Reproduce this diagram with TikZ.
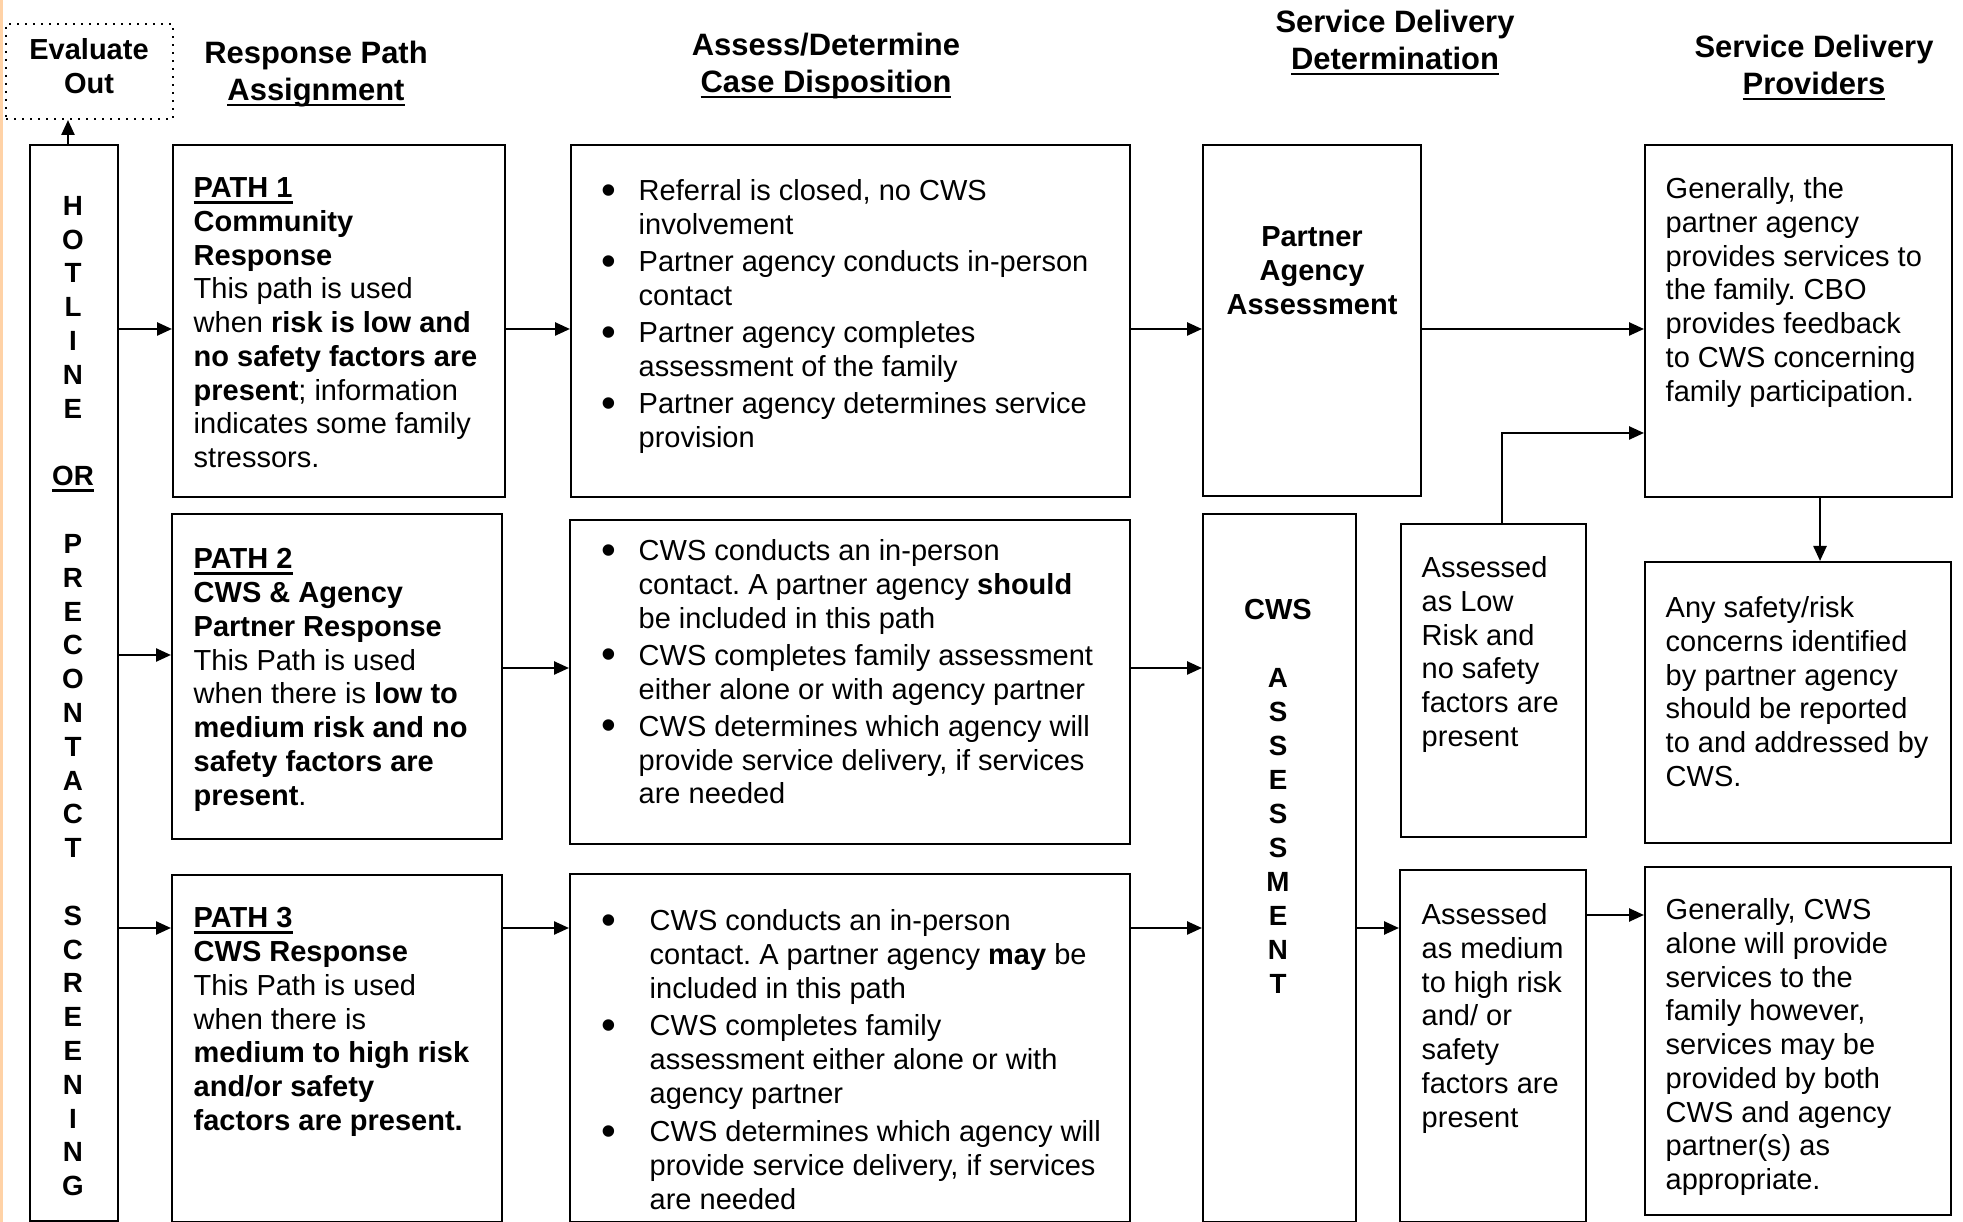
\documentclass[tikz,border=0pt]{standalone}
\usepackage{fontspec}
\setmainfont{Liberation Sans}
\usepackage{tikz}
\usetikzlibrary{positioning, arrows.meta}

\newcommand{\bodysize}{\fontsize{8.25}{9.6}\selectfont}
\newcommand{\headsize}{\fontsize{8.8}{10.5}\selectfont\bfseries}
\newcommand{\itm}[1]{\makebox[#1][l]{\raisebox{-1pt}{\fontsize{12}{12}\selectfont\textbullet}}}
\newcommand{\cont}[1]{\hspace*{#1}}
\newcommand{\uln}[1]{\setbox0=\hbox{#1}\rlap{\rule[-1.7pt]{\wd0}{0.7pt}}\box0}
\frenchspacing

\begin{document}
\begin{tikzpicture}[
    box/.style={draw, line width=0.6pt, inner sep=0pt, anchor=north west},
    txt/.style={anchor=north west, align=left, inner sep=0pt, font=\bodysize},
    head/.style={anchor=north, align=center, inner sep=0pt, font=\headsize},
    arr/.style={-{Triangle[length=0.15cm, width=0.13cm]}, line width=0.7pt}
]
    \useasboundingbox (0,0) rectangle (19.63,-12.22);
    \draw[orange!35, line width=0.03cm] (0.012,0) -- (0.012,-12.22);

    % Column headings
    \node[head] (h1) at (3.16,-0.404) {Response Path\\\uln{Assignment}};
    \node[head] (h2) at (8.26,-0.324) {Assess/Determine\\\uln{Case Disposition}};
    \node[head] (h3) at (13.95,-0.094) {Service Delivery\\\uln{Determination}};
    \node[head] (h4) at (18.14,-0.344) {Service Delivery\\\uln{Providers}};

    % Evaluate out and hotline
    \node[box, minimum width=1.67cm, minimum height=0.95cm, dash pattern=on 0.02cm off 0.06cm, line width=0.02cm] (eval) at (0.05,-0.23) {};
    \node[head, font=\fontsize{8.25}{9.67}\selectfont\bfseries] (evalt) at (0.89,-0.38) {Evaluate\\Out};
    \node[box, minimum width=0.88cm, minimum height=10.76cm] (hotline) at (0.29,-1.44) {};
    \node[head, font=\fontsize{7.9}{9.62}\selectfont\bfseries] (hotlinet) at (0.73,-1.955)
        {H\\O\\T\\L\\I\\N\\E\\\mbox{}\\\uln{OR}\\\mbox{}\\P\\R\\E\\C\\O\\N\\T\\A\\C\\T\\\mbox{}\\S\\C\\R\\E\\E\\N\\I\\N\\G};

    % Response paths
    \node[box, minimum width=3.32cm, minimum height=3.52cm] (path1) at (1.72,-1.44) {};
    \node[txt] (path1t) at (1.93,-1.77) {\textbf{\uln{PATH 1}}\\\textbf{Community}\\\textbf{Response}\\This path is used\\when \textbf{risk is low and}\\\textbf{no safety factors are}\\\textbf{present}; information\\indicates some family\\stressors.};
    \node[box, minimum width=3.30cm, minimum height=3.25cm] (path2) at (1.71,-5.13) {};
    \node[txt] (path2t) at (1.93,-5.48) {\textbf{\uln{PATH 2}}\\\textbf{CWS \& Agency}\\\textbf{Partner Response}\\This Path is used\\when there is \textbf{low to}\\\textbf{medium risk and no}\\\textbf{safety factors are}\\\textbf{present}.};
    \node[box, minimum width=3.30cm, minimum height=3.47cm] (path3) at (1.71,-8.74) {};
    \node[txt] (path3t) at (1.93,-9.07) {\textbf{\uln{PATH 3}}\\\textbf{CWS Response}\\This Path is used\\when there is\\\textbf{medium to high risk}\\\textbf{and/or safety}\\\textbf{factors are present.}};

    % Case disposition
    \node[box, minimum width=5.59cm, minimum height=3.52cm] (case1) at (5.70,-1.44) {};
    \node[txt] (case1t) at (6.01,-1.79) {\itm{0.37cm}Referral is closed, no CWS\\\cont{0.37cm}involvement\\[0.035cm]\itm{0.37cm}Partner agency conducts in-person\\\cont{0.37cm}contact\\[0.035cm]\itm{0.37cm}Partner agency completes\\\cont{0.37cm}assessment of the family\\[0.035cm]\itm{0.37cm}Partner agency determines service\\\cont{0.37cm}provision};
    \node[box, minimum width=5.60cm, minimum height=3.24cm] (case2) at (5.69,-5.19) {};
    \node[txt] (case2t) at (6.01,-5.39) {\itm{0.37cm}CWS conducts an in-person\\\cont{0.37cm}contact. A partner agency \textbf{should}\\\cont{0.37cm}be included in this path\\[0.035cm]\itm{0.37cm}CWS completes family assessment\\\cont{0.37cm}either alone or with agency partner\\[0.035cm]\itm{0.37cm}CWS determines which agency will\\\cont{0.37cm}provide service delivery, if services\\\cont{0.37cm}are needed};
    \node[box, minimum width=5.60cm, minimum height=3.48cm] (case3) at (5.69,-8.73) {};
    \node[txt] (case3t) at (6.01,-9.09) {\itm{0.48cm}CWS conducts an in-person\\\cont{0.48cm}contact. A partner agency \textbf{may} be\\\cont{0.48cm}included in this path\\[0.04cm]\itm{0.48cm}CWS completes family\\\cont{0.48cm}assessment either alone or with\\\cont{0.48cm}agency partner\\[0.045cm]\itm{0.48cm}CWS determines which agency will\\\cont{0.48cm}provide service delivery, if services\\\cont{0.48cm}are needed};

    % Service delivery determination
    \node[box, minimum width=2.18cm, minimum height=3.51cm] (partner) at (12.02,-1.44) {};
    \node[head, font=\fontsize{8.25}{9.67}\selectfont\bfseries] (partnert) at (13.12,-2.26) {Partner\\Agency\\Assessment};
    \node[box, minimum width=1.53cm, minimum height=7.08cm] (cws) at (12.02,-5.13) {};
    \node[head, font=\fontsize{7.9}{9.67}\selectfont\bfseries] (cwst) at (12.78,-5.99) {{\fontsize{8.25}{9.67}\selectfont CWS}\\\mbox{}\\A\\S\\S\\E\\S\\S\\M\\E\\N\\T};
    \node[box, minimum width=1.85cm, minimum height=3.13cm] (lowrisk) at (14.00,-5.23) {};
    \node[txt] (lowriskt) at (14.21,-5.56) {Assessed\\as Low\\Risk and\\no safety\\factors are\\present};
    \node[box, minimum width=1.86cm, minimum height=3.52cm] (highrisk) at (13.99,-8.69) {};
    \node[txt] (highriskt) at (14.21,-9.03) {Assessed\\as medium\\to high risk\\and/ or\\safety\\factors are\\present};

    % Service delivery providers
    \node[box, minimum width=3.07cm, minimum height=3.52cm] (prov) at (16.44,-1.44) {};
    \node[txt] (provt) at (16.65,-1.77) {Generally, the\\partner agency\\provides services to\\the family. CBO\\provides feedback\\to CWS concerning\\family participation.};
    \node[box, minimum width=3.06cm, minimum height=2.81cm] (safety) at (16.44,-5.61) {};
    \node[txt] (safetyt) at (16.65,-5.96) {Any safety/risk\\concerns identified\\by partner agency\\should be reported\\to and addressed by\\CWS.};
    \node[box, minimum width=3.06cm, minimum height=3.48cm] (cwsprov) at (16.44,-8.66) {};
    \node[txt] (cwsprovt) at (16.65,-8.98) {Generally, CWS\\alone will provide\\services to the\\family however,\\services may be\\provided by both\\CWS and agency\\partner(s) as\\appropriate.};

    % Arrow rows
    \coordinate (r1) at (0,-3.29);
    \coordinate (r2) at (0,-6.55);
    \coordinate (r2b) at (0,-6.68);
    \coordinate (r3) at (0,-9.28);
    \coordinate (r3b) at (0,-9.15);
    \coordinate (up) at (0.68,0);
    \coordinate (bend) at (15.02,-4.33);
    \coordinate (down) at (18.20,0);

    \draw[arr] (hotline.north -| up) -- (eval.south -| up);
    \draw[arr] (hotline.east |- r1) -- (path1.west |- r1);
    \draw[arr] (hotline.east |- r2) -- (path2.west |- r2);
    \draw[arr] (hotline.east |- r3) -- (path3.west |- r3);
    \draw[arr] (path1.east |- r1) -- (case1.west |- r1);
    \draw[arr] (path2.east |- r2b) -- (case2.west |- r2b);
    \draw[arr] (path3.east |- r3) -- (case3.west |- r3);
    \draw[arr] (case1.east |- r1) -- (partner.west |- r1);
    \draw[arr] (case2.east |- r2b) -- (cws.west |- r2b);
    \draw[arr] (case3.east |- r3) -- (cws.west |- r3);
    \draw[arr] (partner.east |- r1) -- (prov.west |- r1);
    \draw[arr] (cws.east |- r3) -- (highrisk.west |- r3);
    \draw[arr] (highrisk.east |- r3b) -- (cwsprov.west |- r3b);
    \draw[arr] (lowrisk.north -| bend) -- (bend) -- (prov.west |- bend);
    \draw[arr] (prov.south -| down) -- (safety.north -| down);
\end{tikzpicture}
\end{document}
